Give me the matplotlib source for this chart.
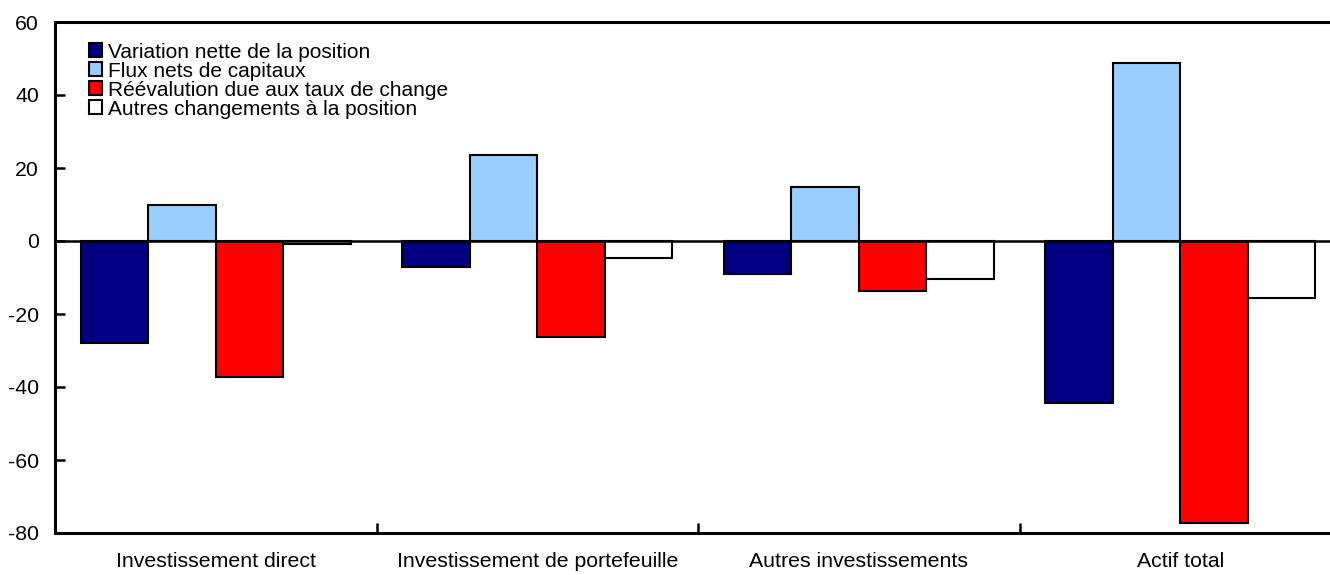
import numpy as np
import matplotlib.pyplot as plt
from matplotlib.ticker import FixedLocator

plt.rcParams['font.family'] = ['Liberation Sans', 'DejaVu Sans']
plt.rcParams['axes.unicode_minus'] = False

categories = ['Investissement direct', 'Investissement de portefeuille',
              'Autres investissements', 'Actif total']
series_names = ['Variation nette de la position', 'Flux nets de capitaux',
                'Réévalution due aux taux de change', 'Autres changements à la position']
variation = [-28.0, -7.1, -9.1, -44.3]
flux = [9.9, 23.6, 14.7, 48.7]
reevaluation = [-37.2, -26.4, -13.6, -77.2]
autres = [-0.8, -4.7, -10.5, -15.7]

colors = ['#000080', '#99CCFF', '#FF0000', '#FFFFFF']
values = [variation, flux, reevaluation, autres]

fig = plt.figure(figsize=(13.3, 5.75), dpi=100)
# axes runs a bit past the right edge, like the original
ax = fig.add_axes([55/1330, 42/575, 1286/1330, 511/575])

x = np.arange(len(categories))
w = 0.21
for i, (vals, c, name) in enumerate(zip(values, colors, series_names)):
    ax.bar(x + (i - 1.5)*w, vals, w, color=c, edgecolor='black',
           linewidth=1.5, label=name, zorder=2)

ax.axhline(0, color='black', linewidth=1.8, zorder=3)

ax.set_xlim(-0.5, 3.5)
ax.set_ylim(-80, 60)
ax.set_yticks(range(-80, 61, 20))
ax.tick_params(axis='y', direction='in', length=7, width=1.8,
               labelsize=15.3, pad=11.5)

ax.set_xticks(x)
ax.set_xticklabels(categories)
ax.tick_params(axis='x', which='major', length=0, labelsize=15.3, pad=14)
ax.xaxis.set_minor_locator(FixedLocator([0.5, 1.5, 2.5]))
ax.tick_params(axis='x', which='minor', direction='in', length=7, width=1.8)

for s in ['left', 'bottom', 'top']:
    ax.spines[s].set_linewidth(2.2)
ax.spines['right'].set_visible(False)

leg = ax.legend(loc='upper left', bbox_to_anchor=(0.018, 0.98), frameon=False,
                fontsize=15, handlelength=0.65, handleheight=0.65,
                handletextpad=0.3, labelspacing=0.0, borderpad=0)

plt.savefig('out.png', dpi=100)
